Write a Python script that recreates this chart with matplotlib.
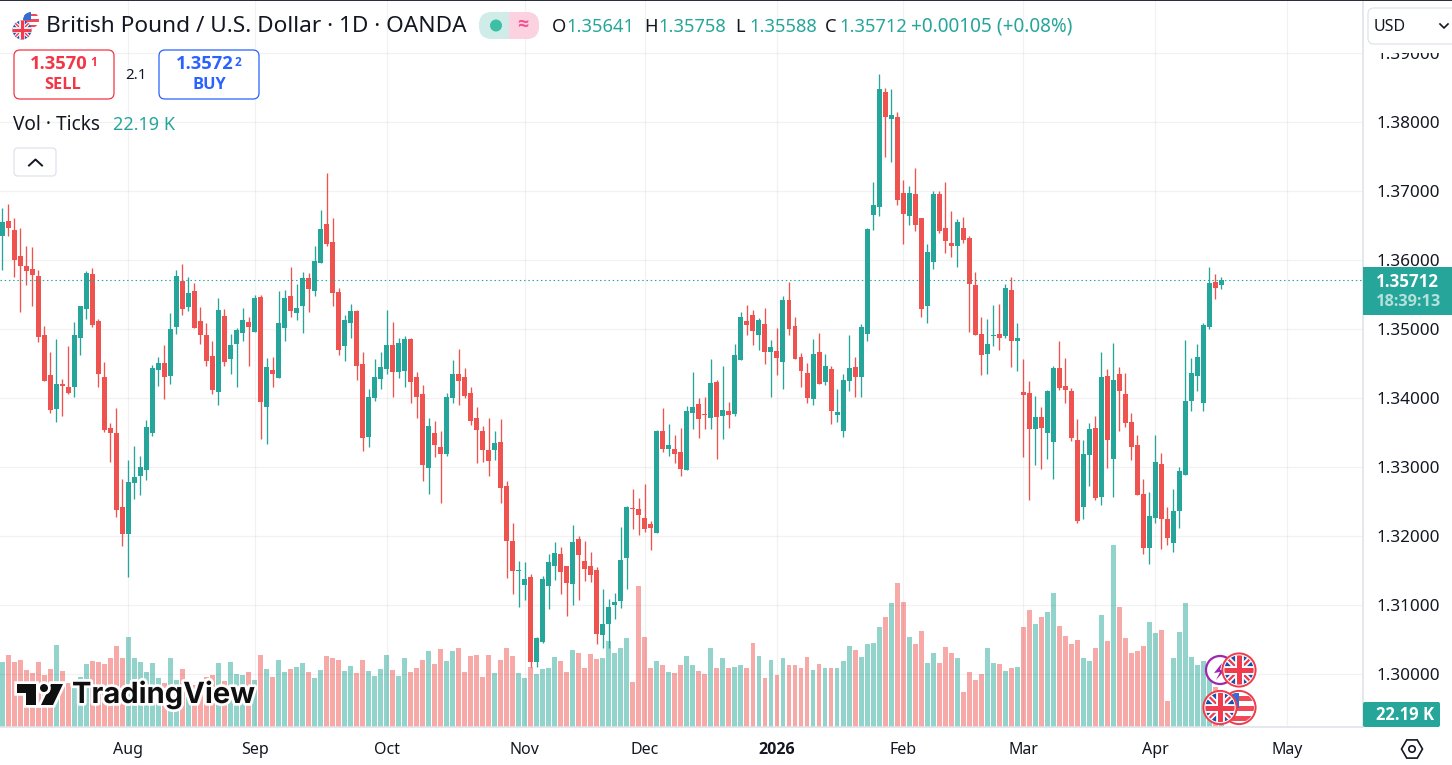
"""GBP/USD daily candles with tick volume, drawn in the TradingView layout."""

import matplotlib
matplotlib.use("Agg")
import matplotlib.pyplot as plt
import matplotlib.patheffects as pe
from matplotlib.patches import Circle, FancyBboxPatch, Polygon, Rectangle, RegularPolygon
import numpy as np

opens = [
    1.36352, 1.36570, 1.36439, 1.36063, 1.35918, 1.35874, 1.35773, 1.34918, 1.34338, 1.33845,
    1.34208, 1.34164, 1.34164, 1.34874, 1.35294, 1.35802, 1.35121, 1.34309, 1.33570, 1.33497,
    1.32425, 1.32033, 1.32773, 1.32874, 1.32961, 1.33497, 1.34410, 1.34512, 1.34323, 1.35034,
    1.35700, 1.35323, 1.35555, 1.35121, 1.34918, 1.34613, 1.34091, 1.35193, 1.34570, 1.34787,
    1.34947, 1.35106, 1.34961, 1.35468, 1.33874, 1.34410, 1.34295, 1.35019, 1.35483, 1.35237,
    1.35338, 1.35744, 1.35555, 1.35961, 1.36526, 1.36265, 1.35541, 1.34758, 1.35092, 1.35266,
    1.34498, 1.33440, 1.34005, 1.34280, 1.34425, 1.34773, 1.34382, 1.34396, 1.34860, 1.34309,
    1.34063, 1.32990, 1.33498, 1.33295, 1.33193, 1.34005, 1.34353, 1.34309, 1.34077, 1.33715,
    1.33527, 1.33251, 1.33251, 1.33367, 1.32729, 1.31932, 1.31498, 1.31295, 1.31411, 1.30179,
    1.30469, 1.31280, 1.31570, 1.31744, 1.31570, 1.31309, 1.31961, 1.31642, 1.31570, 1.31512,
    1.30570, 1.30729, 1.31005, 1.31063, 1.31686, 1.32411, 1.32396, 1.32266, 1.32179, 1.32048,
    1.33527, 1.33266, 1.33265, 1.33222, 1.32961, 1.33787, 1.33917, 1.33772, 1.33714, 1.34236,
    1.33743, 1.33816, 1.33772, 1.34555, 1.35120, 1.35207, 1.34917, 1.35077, 1.34671, 1.34685,
    1.34526, 1.35425, 1.35048, 1.34598, 1.34366, 1.33990, 1.34671, 1.34236, 1.34425, 1.33758,
    1.33526, 1.34251, 1.34454, 1.34309, 1.34932, 1.36656, 1.36772, 1.38439, 1.38048, 1.38077,
    1.36975, 1.36642, 1.36961, 1.36613, 1.35338, 1.35975, 1.36961, 1.36468, 1.36251, 1.36207,
    1.36468, 1.36323, 1.35642, 1.34932, 1.34642, 1.34904, 1.34933, 1.34904, 1.35570, 1.34831,
    1.34092, 1.34077, 1.33556, 1.33730, 1.33498, 1.33367, 1.34440, 1.34179, 1.34106, 1.33396,
    1.32425, 1.33179, 1.33570, 1.32570, 1.34324, 1.33121, 1.34353, 1.34063, 1.33657, 1.33324,
    1.32614, 1.31831, 1.32266, 1.33049, 1.32251, 1.31904, 1.32367, 1.32889, 1.33962, 1.34324,
    1.33933, 1.35034, 1.35686, 1.35641,
]
highs = [
    1.36758, 1.36816, 1.36613, 1.36468, 1.36207, 1.36193, 1.35860, 1.35048, 1.34671, 1.34860,
    1.34280, 1.34758, 1.35106, 1.35338, 1.35845, 1.35889, 1.35149, 1.34526, 1.33642, 1.33860,
    1.32831, 1.33106, 1.33309, 1.33164, 1.33686, 1.34483, 1.34599, 1.34773, 1.35237, 1.35860,
    1.35947, 1.35758, 1.35671, 1.35323, 1.35092, 1.34831, 1.35454, 1.35294, 1.34932, 1.35019,
    1.35309, 1.35179, 1.35497, 1.35497, 1.34584, 1.34599, 1.35555, 1.35570, 1.35903, 1.35657,
    1.35831, 1.35816, 1.36207, 1.36729, 1.37266, 1.36613, 1.35599, 1.35208, 1.35367, 1.35280,
    1.34671, 1.34135, 1.34570, 1.34671, 1.35280, 1.35106, 1.34874, 1.34903, 1.34874, 1.34382,
    1.34193, 1.33715, 1.33671, 1.33527, 1.34077, 1.34556, 1.34715, 1.34440, 1.34164, 1.33874,
    1.33599, 1.33715, 1.33527, 1.33700, 1.32802, 1.32193, 1.31642, 1.31628, 1.31454, 1.30541,
    1.31425, 1.31744, 1.31918, 1.31845, 1.31570, 1.32164, 1.32005, 1.31932, 1.31773, 1.31555,
    1.31237, 1.31092, 1.31179, 1.32135, 1.32440, 1.32686, 1.32556, 1.32758, 1.32222, 1.33541,
    1.33860, 1.33628, 1.33468, 1.33569, 1.33888, 1.34381, 1.34004, 1.34019, 1.34569, 1.34265,
    1.34468, 1.33946, 1.34787, 1.35250, 1.35352, 1.35279, 1.35164, 1.35309, 1.34845, 1.35019,
    1.35483, 1.35685, 1.35178, 1.34656, 1.34512, 1.34859, 1.34946, 1.34642, 1.34468, 1.34135,
    1.34352, 1.34917, 1.34598, 1.35077, 1.36468, 1.37135, 1.38700, 1.38497, 1.38483, 1.38149,
    1.37164, 1.37077, 1.37338, 1.36613, 1.36236, 1.37004, 1.37004, 1.37135, 1.36714, 1.36599,
    1.36628, 1.36352, 1.35830, 1.35178, 1.35149, 1.35353, 1.35367, 1.35657, 1.35759, 1.35092,
    1.34570, 1.34251, 1.34034, 1.33875, 1.34121, 1.34469, 1.34831, 1.34585, 1.34150, 1.33701,
    1.33396, 1.33643, 1.33744, 1.34672, 1.34425, 1.34802, 1.34454, 1.34367, 1.33788, 1.33469,
    1.32831, 1.32643, 1.33469, 1.33208, 1.32425, 1.32686, 1.33005, 1.34846, 1.34585, 1.34788,
    1.35092, 1.35904, 1.35802, 1.35758,
]
lows = [
    1.35860, 1.36352, 1.35758, 1.35251, 1.35642, 1.35338, 1.34816, 1.34251, 1.33787, 1.33657,
    1.33744, 1.34062, 1.34019, 1.34628, 1.35149, 1.35034, 1.34164, 1.33512, 1.33077, 1.32280,
    1.31860, 1.31410, 1.32541, 1.32599, 1.32816, 1.33454, 1.34179, 1.33990, 1.34208, 1.34932,
    1.35207, 1.35265, 1.35019, 1.34787, 1.34468, 1.34062, 1.33903, 1.34468, 1.34352, 1.34164,
    1.34831, 1.34468, 1.34961, 1.33410, 1.33338, 1.34164, 1.34295, 1.34831, 1.35179, 1.35135,
    1.34947, 1.35251, 1.35483, 1.35961, 1.36207, 1.35338, 1.34628, 1.34541, 1.34874, 1.34266,
    1.33237, 1.33295, 1.33961, 1.34135, 1.34353, 1.34019, 1.34295, 1.34164, 1.33932, 1.33715,
    1.32802, 1.32613, 1.33150, 1.32483, 1.33164, 1.33932, 1.33903, 1.34005, 1.33614, 1.33063,
    1.33077, 1.32874, 1.33106, 1.32483, 1.31396, 1.31164, 1.30976, 1.31077, 1.30106, 1.30106,
    1.30454, 1.30947, 1.31367, 1.31164, 1.30845, 1.31005, 1.31077, 1.31353, 1.31338, 1.30440,
    1.30382, 1.30382, 1.30802, 1.30961, 1.31237, 1.32106, 1.32019, 1.32063, 1.31802, 1.32048,
    1.33222, 1.33164, 1.33062, 1.32874, 1.32961, 1.33555, 1.33425, 1.33555, 1.33555, 1.33120,
    1.33410, 1.33569, 1.33743, 1.34555, 1.34917, 1.34772, 1.34700, 1.34497, 1.34019, 1.34338,
    1.34135, 1.34917, 1.34569, 1.34164, 1.33932, 1.33903, 1.34207, 1.34193, 1.33628, 1.33656,
    1.33439, 1.34106, 1.34019, 1.34019, 1.34830, 1.36439, 1.36642, 1.37497, 1.37425, 1.36801,
    1.36236, 1.36512, 1.36425, 1.35178, 1.35091, 1.35874, 1.36396, 1.36106, 1.36048, 1.35903,
    1.36251, 1.34961, 1.34917, 1.34338, 1.34352, 1.34759, 1.34701, 1.34875, 1.34454, 1.34396,
    1.33150, 1.32527, 1.33034, 1.32976, 1.33121, 1.32831, 1.34121, 1.33933, 1.33382, 1.32193,
    1.32251, 1.32730, 1.32527, 1.32454, 1.32990, 1.32570, 1.33527, 1.33585, 1.33106, 1.32599,
    1.31744, 1.31599, 1.32193, 1.31817, 1.31875, 1.31773, 1.32121, 1.32889, 1.33817, 1.34106,
    1.33817, 1.35005, 1.35440, 1.35588,
]
closes = [
    1.36555, 1.36468, 1.36005, 1.35918, 1.35845, 1.35787, 1.34889, 1.34251, 1.33831, 1.34208,
    1.34179, 1.34077, 1.34918, 1.35338, 1.35816, 1.35063, 1.34352, 1.33541, 1.33497, 1.32381,
    1.32033, 1.32787, 1.32860, 1.33004, 1.33584, 1.34439, 1.34512, 1.34309, 1.35005, 1.35773,
    1.35294, 1.35526, 1.35019, 1.34918, 1.34541, 1.34120, 1.35280, 1.34526, 1.34773, 1.34990,
    1.35135, 1.35034, 1.35454, 1.33947, 1.34454, 1.34352, 1.35092, 1.35454, 1.35265, 1.35309,
    1.35744, 1.35584, 1.35990, 1.36454, 1.36236, 1.35526, 1.34700, 1.35135, 1.35266, 1.34469,
    1.33425, 1.34019, 1.34309, 1.34454, 1.34773, 1.34382, 1.34802, 1.34860, 1.34237, 1.34019,
    1.33034, 1.33599, 1.33324, 1.33193, 1.34019, 1.34353, 1.34251, 1.34034, 1.33671, 1.33541,
    1.33251, 1.33092, 1.33353, 1.32700, 1.31932, 1.31498, 1.31512, 1.31382, 1.30179, 1.30526,
    1.31382, 1.31628, 1.31758, 1.31483, 1.31323, 1.31918, 1.31729, 1.31526, 1.31440, 1.30585,
    1.30729, 1.30976, 1.31048, 1.31657, 1.32425, 1.32396, 1.32309, 1.32106, 1.32121, 1.33527,
    1.33266, 1.33324, 1.33193, 1.32975, 1.33816, 1.33874, 1.33700, 1.33758, 1.34222, 1.33729,
    1.33830, 1.33758, 1.34627, 1.35178, 1.35062, 1.34975, 1.35135, 1.34671, 1.34743, 1.34584,
    1.35425, 1.35004, 1.34569, 1.34395, 1.34004, 1.34642, 1.34207, 1.34468, 1.33816, 1.33801,
    1.34265, 1.34439, 1.34309, 1.35033, 1.36454, 1.36801, 1.38483, 1.38077, 1.38106, 1.36874,
    1.36671, 1.36975, 1.36512, 1.35294, 1.36120, 1.36961, 1.36425, 1.36280, 1.36207, 1.36555,
    1.36294, 1.35656, 1.34917, 1.34627, 1.34787, 1.34918, 1.34875, 1.35599, 1.34831, 1.34875,
    1.34049, 1.33556, 1.33730, 1.33570, 1.34106, 1.34440, 1.34150, 1.34121, 1.33425, 1.32222,
    1.33193, 1.33556, 1.32556, 1.34310, 1.33396, 1.34266, 1.34106, 1.33643, 1.33295, 1.32599,
    1.31831, 1.32295, 1.33077, 1.32251, 1.31976, 1.32367, 1.32947, 1.33962, 1.34367, 1.34599,
    1.35063, 1.35672, 1.35599, 1.35712,
]
volumes_k = [
    111, 123, 111, 114, 97, 92, 111, 89, 99, 140, 96, 75, 82, 85, 108, 113, 111, 108, 118, 138,
    118, 154, 118, 111, 94, 109, 84, 75, 118, 80, 99, 80, 72, 80, 85, 89, 109, 79, 111, 90,
    89, 94, 80, 123, 99, 85, 114, 94, 99, 102, 109, 94, 84, 97, 121, 118, 114, 96, 104, 92,
    114, 96, 87, 99, 123, 97, 87, 118, 94, 101, 114, 130, 108, 133, 113, 130, 135, 94, 121, 123,
    85, 123, 92, 114, 135, 121, 92, 84, 102, 90, 99, 101, 119, 113, 94, 131, 126, 101, 125, 116,
    118, 147, 126, 135, 152, 77, 240, 154, 100, 112, 106, 94, 93, 106, 122, 105, 96, 91, 134, 101,
    117, 101, 103, 105, 101, 144, 122, 84, 115, 89, 117, 106, 105, 100, 120, 98, 108, 100, 101, 100,
    112, 139, 132, 120, 141, 144, 171, 188, 211, 245, 214, 154, 142, 164, 110, 127, 110, 137, 127, 117,
    59, 94, 81, 91, 134, 110, 108, 96, 101, 103, 170, 199, 175, 187, 197, 228, 173, 156, 141, 149,
    118, 112, 134, 192, 147, 310, 204, 152, 127, 130, 139, 180, 161, 166, 45, 118, 163, 211, 120, 106,
    113, 92, 69, 22.19,
]
price_ticks = [1.30, 1.31, 1.32, 1.33, 1.34, 1.35, 1.36, 1.37, 1.38, 1.39]
month_pos = [21, 42, 64, 87, 107, 129, 150, 170, 192, 214]
month_labels = ["Aug", "Sep", "Oct", "Nov", "Dec", "2026", "Feb", "Mar", "Apr", "May"]

W, H = 1452, 765
UP, DOWN = "#26a69a", "#ef5350"
UP_VOL, DOWN_VOL = "#92d3cc", "#f7a9a7"
INK = "#131722"
LINE = "#e0e3eb"
PANE_R, PANE_B = 1362.5, 727  # pixel edges of the chart pane

plt.rcParams["font.family"] = ["Noto Sans", "DejaVu Sans"]
BOLD = ["Open Sans", "DejaVu Sans"]  # Noto Sans has no bold face here

fig = plt.figure(figsize=(W / 100, H / 100), dpi=100, facecolor="white")
rect = [0, 1 - PANE_B / H, PANE_R / W, PANE_B / H]

# volume sits under the candles, on its own scale (22.19 K = 13 px)
ax_vol = fig.add_axes(rect, zorder=1)
ax = fig.add_axes(rect, zorder=2)
ax.patch.set_visible(False)

x = np.arange(len(closes))
o, h, l, c = map(np.array, (opens, highs, lows, closes))
up = c >= o
col = np.where(up, UP, DOWN)

xlim = (-0.383, 226.5)
ax_vol.bar(x, volumes_k, width=0.82, color=np.where(up, UP_VOL, DOWN_VOL), linewidth=0)
ax_vol.set_xlim(xlim)
ax_vol.set_ylim(0, PANE_B * 1.707)
ax_vol.axis("off")

ax.vlines(x, l, h, colors=col, linewidth=0.95, zorder=3)
ax.bar(x, np.maximum(np.abs(c - o), 0.00004), bottom=np.minimum(o, c), width=0.83,
       color=col, linewidth=0, zorder=4)
ax.axhline(c[-1], color=UP, linewidth=0.8, linestyle=(0, (1.3, 2.5)), zorder=5)

ax.set_xlim(xlim)
ax.set_ylim(1.29236, 1.39772)
ax.yaxis.tick_right()
ax.set_yticks(price_ticks)
ax.set_yticklabels([f"{p:.5f}" for p in price_ticks])
ax.set_xticks(month_pos)
ax.set_xticklabels(month_labels)
ax.tick_params(axis="both", length=0, labelcolor=INK)
ax.tick_params(axis="y", pad=10, labelsize=12.3)
ax.tick_params(axis="x", pad=10.5, labelsize=11.5)
year_label = ax.get_xticklabels()[5]
year_label.set_fontfamily(BOLD)
year_label.set_fontweight("bold")
ax.grid(True, color="#2a2e39", alpha=0.06, linewidth=0.9, zorder=0)
ax.set_axisbelow(True)
for name, sp in ax.spines.items():
    sp.set_visible(name in ("right", "bottom"))
    sp.set_color(LINE)
    sp.set_linewidth(1.2)

# overlay in pixel coordinates for the chrome around the chart
ov = fig.add_axes([0, 0, 1, 1], zorder=10)
ov.set_xlim(0, W)
ov.set_ylim(H, 0)
ov.axis("off")


def box(x0, y0, x1, y1, edge, face="white", r=5, lw=0.9, z=2):
    p = FancyBboxPatch((x0 + r, y0 + r), x1 - x0 - 2 * r, y1 - y0 - 2 * r,
                       boxstyle=f"round,pad={r},rounding_size={r}",
                       edgecolor=edge, facecolor=face, linewidth=lw, zorder=z)
    ov.add_patch(p)
    return p


def label(px, py, s, size=12.5, color=INK, ha="left", bold=False, z=6):
    return ov.text(px, py, s, fontsize=size, color=color, ha=ha, va="center", zorder=z,
                   family=BOLD if bold else None, fontweight="bold" if bold else "normal")


def uk_flag(cx, cy, r, ring=False, z=7):
    clip = Circle((cx, cy), r, transform=ov.transData)
    ov.add_patch(Circle((cx, cy), r, facecolor="#1d4fa8", edgecolor="none", zorder=z))
    for lw, colr, dz in ((r * 0.28, "white", 0.1), (r * 0.11, "#ef3b4d", 0.2)):
        for sx in (1, -1):
            ln, = ov.plot([cx - r * sx, cx + r * sx], [cy - r, cy + r], color=colr,
                          linewidth=lw, zorder=z + dz)
            ln.set_clip_path(clip)
    for lw, colr, dz in ((r * 0.42, "white", 0.3), (r * 0.24, "#ef3b4d", 0.4)):
        ln, = ov.plot([cx - r, cx + r], [cy, cy], color=colr, linewidth=lw, zorder=z + dz)
        ln.set_clip_path(clip)
        ln, = ov.plot([cx, cx], [cy - r, cy + r], color=colr, linewidth=lw, zorder=z + dz)
        ln.set_clip_path(clip)
    if ring:
        ov.add_patch(Circle((cx, cy), r + 0.7, facecolor="none", edgecolor="white",
                            linewidth=1.5, zorder=z + 0.5))
        ov.add_patch(Circle((cx, cy), r + 1.6, facecolor="none", edgecolor="#f03b4b",
                            linewidth=1.4, zorder=z + 0.6))


def us_flag(cx, cy, r, ring=False, z=7):
    clip = Circle((cx, cy), r, transform=ov.transData)
    ov.add_patch(Circle((cx, cy), r, facecolor="white", edgecolor="none", zorder=z))
    for k in range(3):
        st = Rectangle((cx - r, cy - r + (2 * k + 0.7) * r / 3), 2 * r, r / 3.2,
                       facecolor="#ef4a58", zorder=z + 0.1)
        ov.add_patch(st)
        st.set_clip_path(clip)
    cant = Rectangle((cx - r, cy - r), r, r, facecolor="#2f6fd6", zorder=z + 0.2)
    ov.add_patch(cant)
    cant.set_clip_path(clip)
    if ring:
        ov.add_patch(Circle((cx, cy), r + 1.6, facecolor="none", edgecolor="#f03b4b",
                            linewidth=1.4, zorder=z + 0.6))


# top rule and header text
ov.add_patch(Rectangle((0, 0), W, 1.3, facecolor="#2a2e39", edgecolor="none", zorder=8))
us_flag(31, 20, 8, z=3)
uk_flag(22, 30, 9.5, z=4)
label(46, 26.5, "British Pound / U.S. Dollar · 1D · OANDA", size=16.3)

# market-status pill
box(479, 12, 539, 39, "none", face="#cfece8", r=13, z=2)
pink = Rectangle((509, 12), 30, 27, facecolor="#fcd2e0", edgecolor="none", zorder=3)
ov.add_patch(pink)
pink.set_clip_path(box(479, 12, 539, 39, "none", face="none", r=13, z=1))
ov.add_patch(Circle((496, 25.5), 6, facecolor="#3dbfa3", edgecolor="none", zorder=4))
label(523, 25, "≈", size=14, color="#f2528f", ha="center", bold=True)

# OHLC readout
for lx, letter, vx, val in [(552, "O", 566, "1.35641"), (644, "H", 658, "1.35758"),
                            (735, "L", 749, "1.35588"), (825, "C", 839, "1.35712")]:
    label(lx, 26.5, letter, size=13.2)
    label(vx, 26.5, val, size=13.2, color=UP)
label(911, 26.5, "+0.00105 (+0.08%)", size=13.7, color=UP)

# sell / buy buttons
RED, BLUE = "#f23645", "#2962ff"
box(14, 50, 114, 99, RED, r=6)
label(30, 64, "1.3570", size=13.2, color=RED, bold=True)
label(90, 62, "1", size=8.5, color=RED, bold=True)
label(63, 85, "SELL", size=11.8, color=RED, ha="center", bold=True)
label(136, 75, "2.1", size=10.8, ha="center")
box(159, 50, 259, 99, BLUE, r=6)
label(176, 64, "1.3572", size=13.2, color=BLUE, bold=True)
label(235, 62, "2", size=8.5, color=BLUE, bold=True)
label(209, 85, "BUY", size=11.8, color=BLUE, ha="center", bold=True)

label(13, 124.5, "Vol · Ticks", size=13.7)
label(113, 124.5, "22.19 K", size=13, color=UP)

box(14, 148, 56, 176, LINE, r=4)
ov.plot([29, 35.5, 42], [165.5, 159.5, 165.5], color=INK, linewidth=1.4, zorder=4)

# currency selector covers the top of the 1.39000 label
ov.add_patch(Rectangle((1364, 2), 88, 51, facecolor="white", edgecolor="none", zorder=1))
box(1368, 8, 1462, 44, LINE, r=6)
label(1374, 26.5, "USD", size=11.5)
ov.plot([1440, 1444, 1448], [24, 28, 24], color=INK, linewidth=1.2, zorder=4)

# last price and last volume tags
ov.add_patch(Rectangle((1363, 267), 89, 48, facecolor=UP, edgecolor="none", zorder=4))
label(1376, 281.5, "1.35712", size=12.2, color="white", bold=True)
label(1376, 302, "18:39:13", size=11.8, color="#b6e0db", bold=True)
box(1363, 702, 1440, 727, "none", face=UP, r=2, z=4)
label(1376, 714.5, "22.19 K", size=12, color="white", bold=True)

# settings hexagon
ov.add_patch(RegularPolygon((1412, 749), 6, radius=10.5, orientation=np.pi / 2,
                            facecolor="none", edgecolor=INK, linewidth=1.2, zorder=4))
ov.add_patch(Circle((1412, 749), 3.2, facecolor="none", edgecolor=INK, linewidth=1.2, zorder=4))

# event badges at the right end of the candles
ov.add_patch(Circle((1220, 670), 14, facecolor="white", edgecolor="#9c27b0", linewidth=1.6, zorder=6))
ov.add_patch(Polygon([(1222, 663), (1214, 673), (1220, 672), (1216, 680), (1226, 669), (1220, 670)],
                     facecolor="#9c27b0", edgecolor="none", zorder=6.2))
uk_flag(1239, 670, 15, ring=True, z=7)
us_flag(1239, 707.5, 15, ring=True, z=7)
uk_flag(1220, 707.5, 15, ring=True, z=8)

# watermark, white halo round black shapes
halo = [pe.withStroke(linewidth=4, foreground="white")]
logo_parts = [
    [(17, 684), (36, 684), (36, 705), (26, 705), (26, 693), (17, 693)],
    [(51, 684), (63, 684), (53, 705), (41, 705)],
]
for pts in logo_parts:
    ov.add_patch(Polygon(pts, facecolor="#0f0f0f", edgecolor="none", zorder=6, path_effects=halo))
ov.add_patch(Circle((44, 688), 4, facecolor="#0f0f0f", edgecolor="none", zorder=6, path_effects=halo))
wm = ov.text(72, 695, "TradingView", fontsize=21, fontweight="bold", color="#0f0f0f", ha="left",
             va="center", family=["Inter", "DejaVu Sans"], zorder=6)
wm.set_path_effects(halo)

fig.savefig("out.png", dpi=100)
